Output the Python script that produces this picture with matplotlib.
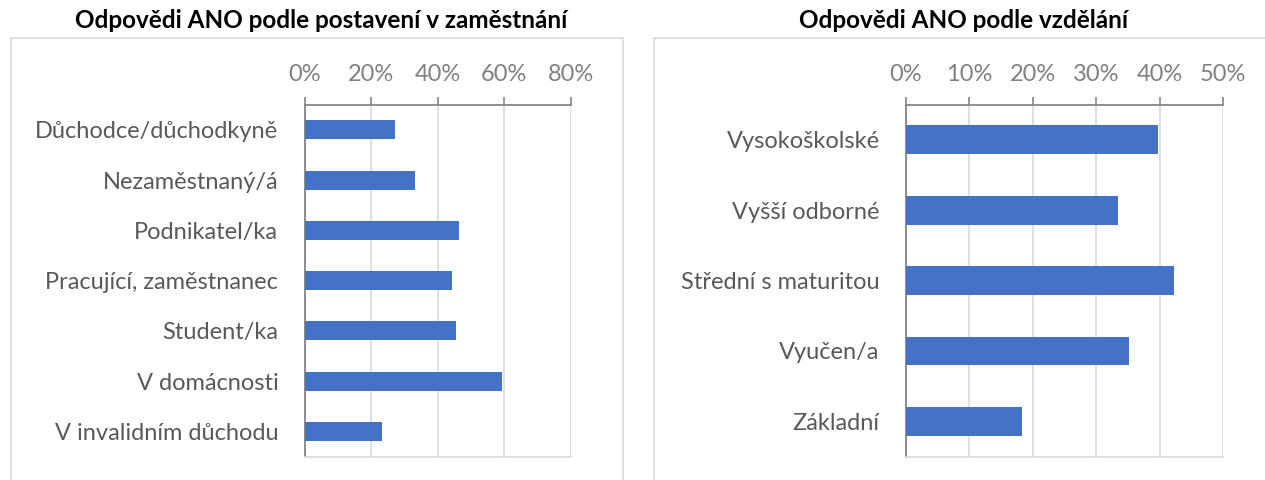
import matplotlib.pyplot as plt
from matplotlib.patches import Rectangle
from matplotlib.ticker import PercentFormatter

plt.rcParams['font.family'] = ['Lato', 'DejaVu Sans']

# data
postaveni = ['Důchodce/důchodkyně', 'Nezaměstnaný/á', 'Podnikatel/ka',
             'Pracující, zaměstnanec', 'Student/ka', 'V domácnosti',
             'V invalidním důchodu']
postaveni_ano = [27.1, 33.3, 46.3, 44.4, 45.5, 59.3, 23.2]

vzdelani = ['Vysokoškolské', 'Vyšší odborné', 'Střední s maturitou',
            'Vyučen/a', 'Základní']
vzdelani_ano = [39.7, 33.4, 42.2, 35.1, 18.3]

W, H = 1265, 480
fig = plt.figure(figsize=(W / 100, H / 100), dpi=100)

def px(x0, y0, x1, y1):
    # pixel box (top-left origin) -> figure fraction rect
    return [x0 / W, 1 - y1 / H, (x1 - x0) / W, (y1 - y0) / H]

# panel frames
fig.add_artist(Rectangle((11 / W, -0.1), (623 - 11) / W, 1.1 - 38.3 / H,
                         transform=fig.transFigure, fill=False,
                         edgecolor='#d9d9d9', lw=1.2))
fig.add_artist(Rectangle((654 / W, -0.1), 0.6, 1.1 - 38.3 / H,
                         transform=fig.transFigure, fill=False,
                         edgecolor='#d9d9d9', lw=1.2))

fig.text(321 / W, 1 - 20 / H, 'Odpovědi ANO podle postavení v zaměstnání',
         ha='center', va='center', fontsize=17.5, fontweight='bold', color='black')
fig.text(964 / W, 1 - 20 / H, 'Odpovědi ANO podle vzdělání',
         ha='center', va='center', fontsize=17.5, fontweight='bold', color='black')


def kresli(ax, kategorie, hodnoty, xmax, krok, vyska):
    ax.barh(kategorie, hodnoty, height=vyska, color='#4472C4', zorder=3)
    ax.set_xlim(0, xmax)
    ax.set_ylim(len(kategorie) - 0.5, -0.5)
    ax.set_xticks(range(0, xmax + 1, krok))
    ax.xaxis.set_major_formatter(PercentFormatter(decimals=0))
    ax.xaxis.tick_top()
    ax.grid(axis='x', color='#d9d9d9', lw=1.2, zorder=0)
    ax.tick_params(axis='x', direction='out', length=6, width=1.2,
                   color='#868686', labelcolor='#808080', labelsize=17, pad=8)
    ax.tick_params(axis='y', length=0, labelcolor='#595959', labelsize=17, pad=19)
    for s in ['top', 'left']:
        ax.spines[s].set_color('#868686')
        ax.spines[s].set_linewidth(1.3)
    ax.spines['bottom'].set_color('#d9d9d9')
    ax.spines['bottom'].set_linewidth(1.2)
    ax.spines['right'].set_visible(False)


ax1 = fig.add_axes(px(304.7, 104.7, 570.7, 456.5))
kresli(ax1, postaveni, postaveni_ano, 80, 20, 0.38)

ax2 = fig.add_axes(px(906, 104.7, 1223.3, 456.5))
kresli(ax2, vzdelani, vzdelani_ano, 50, 10, 0.41)

fig.savefig('out.png', dpi=100)
